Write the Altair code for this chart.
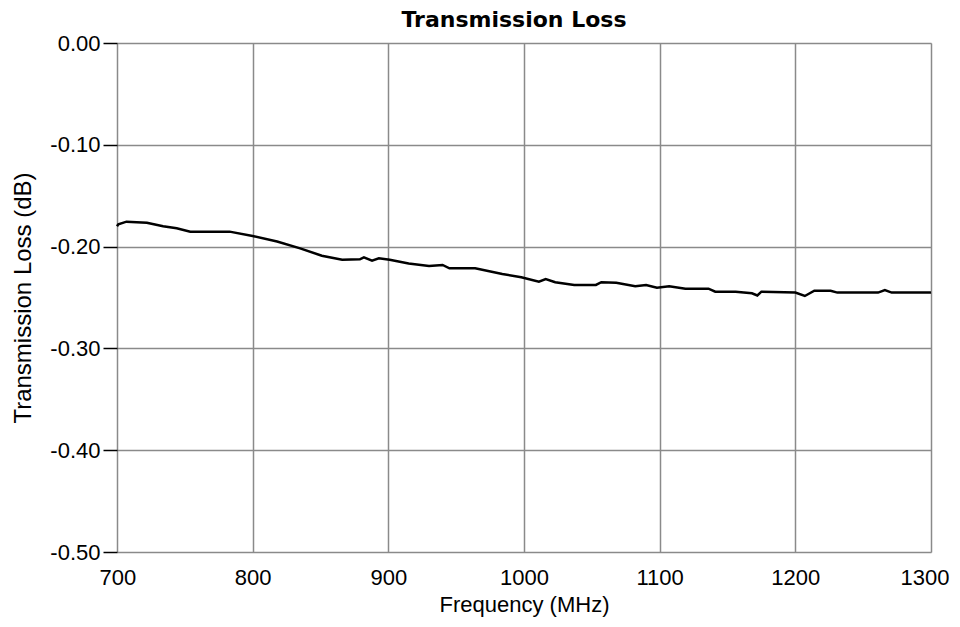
import altair as alt
import pandas as pd

freq = [700, 701, 707, 722, 734, 744, 754, 783, 800, 818, 835, 851, 866, 879, 882, 888, 893,
        901, 915, 930, 940, 945, 964, 984, 998, 1011, 1016, 1023, 1037, 1053, 1057, 1068,
        1082, 1090, 1098, 1107, 1119, 1136, 1141, 1156, 1168, 1172, 1175, 1200, 1207, 1214,
        1226, 1231, 1261, 1266, 1271, 1298, 1300]
loss = [-0.180, -0.178, -0.1755, -0.1765, -0.180, -0.182, -0.1853, -0.1853, -0.1896, -0.195,
        -0.2017, -0.209, -0.213, -0.2125, -0.2105, -0.2138, -0.2115, -0.213, -0.2165, -0.219,
        -0.218, -0.2213, -0.2213, -0.2269, -0.2302, -0.2345, -0.2319, -0.235, -0.2377, -0.2377,
        -0.235, -0.2355, -0.239, -0.2377, -0.2403, -0.239, -0.2413, -0.2413, -0.2443, -0.2443,
        -0.2459, -0.248, -0.2443, -0.2452, -0.2485, -0.2433, -0.2433, -0.2452, -0.2452, -0.2427,
        -0.2452, -0.2452, -0.245]

x_ticks = [700, 800, 900, 1000, 1100, 1200, 1300]
y_ticks = [0.0, -0.1, -0.2, -0.3, -0.4, -0.5]

df = pd.DataFrame({"freq": freq, "loss": loss})

FONT = "Liberation Sans"

chart = alt.Chart(df).mark_line(color="black", strokeWidth=2.5).encode(
    x=alt.X("freq:Q", scale=alt.Scale(domain=[700, 1300], nice=False),
            axis=alt.Axis(title="Frequency (MHz)", values=x_ticks, format="d",
                          labelPadding=15, ticks=False, titlePadding=6,
                          labelFlush=True, labelFlushOffset=18, labelOverlap=False,
                          labelFontSize=22, titleFontSize=22, labelFont=FONT, titleFont=FONT,
                          labelColor="black", titleColor="black", titleFontWeight="normal",
                          gridColor="#8a8a8a", gridWidth=1.5, domain=False)),
    y=alt.Y("loss:Q", scale=alt.Scale(domain=[-0.5, 0], nice=False),
            axis=alt.Axis(title="Transmission Loss (dB)", values=y_ticks,
                          labelExpr="(datum.value < 0 ? '-' : '') + format(abs(datum.value), '.2f')",
                          tickSize=14, tickColor="black", tickWidth=1.5, labelPadding=3,
                          titlePadding=14, labelFlush=False, labelOverlap=False,
                          labelFontSize=22, titleFontSize=24, labelFont=FONT, titleFont=FONT,
                          labelColor="black", titleColor="black", titleFontWeight="normal",
                          gridColor="#8a8a8a", gridWidth=1.5, domain=False)),
).properties(
    width=814, height=509,
    title=alt.TitleParams("Transmission Loss", font="DejaVu Sans", fontSize=22, fontWeight="bold",
                          color="black", offset=0, anchor="middle", dx=-10),
    autosize=alt.AutoSizeParams(type="none"),
    padding={"left": 109, "top": 35, "right": 20, "bottom": 67},
).configure_view(stroke="#333333", strokeWidth=2).configure(background="white")

chart.save("out.html", embed_options={"renderer": "svg", "actions": False})
